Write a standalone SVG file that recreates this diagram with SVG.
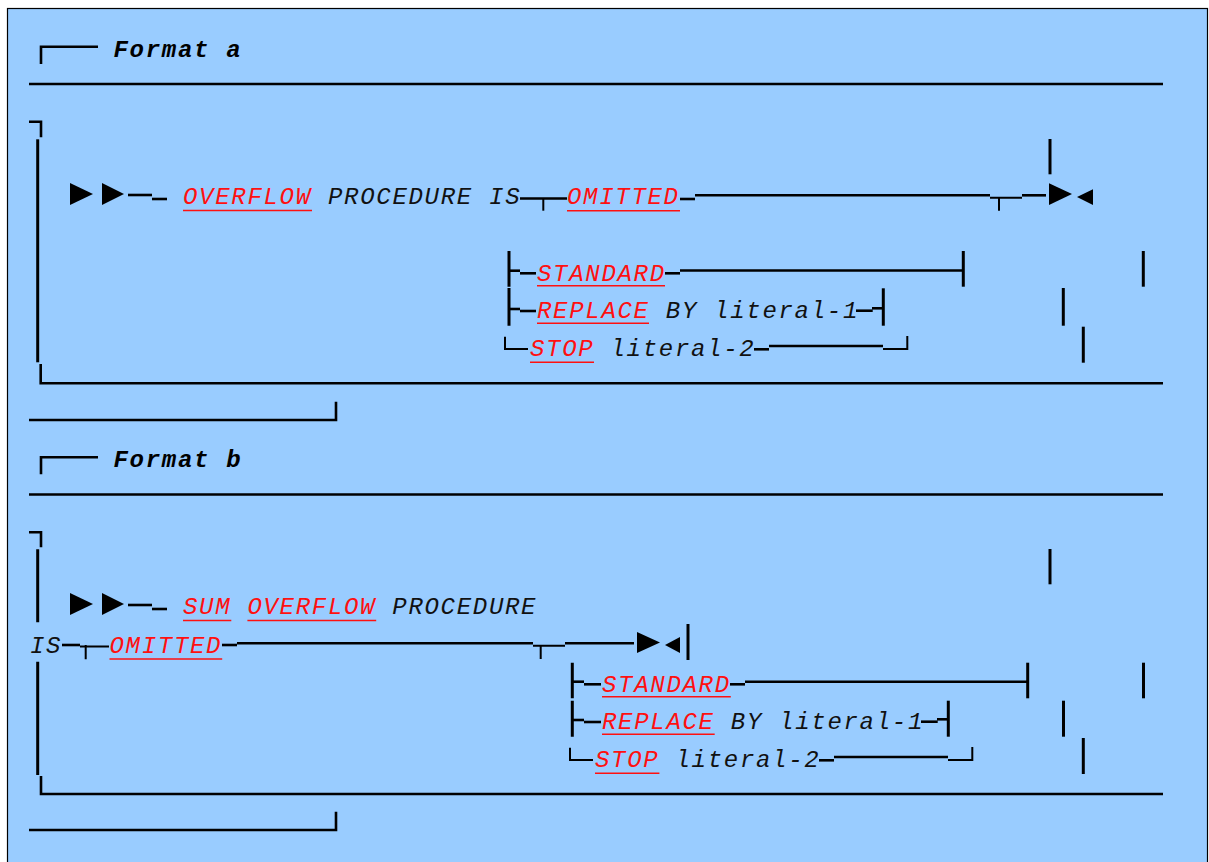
<svg xmlns="http://www.w3.org/2000/svg" width="1209" height="862" viewBox="0 0 1209 862">
<style>
.t{font-family:"Liberation Mono","Courier New",monospace;font-style:italic;font-size:24px;letter-spacing:1.7px;fill:#111}
.r{fill:#ff1010}
.h{font-weight:bold;fill:#000}
.ln{stroke:#000;stroke-width:2.6;fill:none}
.v{stroke:#000;stroke-width:3;fill:none}
.th{stroke:#000;stroke-width:2;fill:none}
.ul{stroke:#ff1010;stroke-width:1.6}
.ar{fill:#000}
</style>
<rect x="7.5" y="8.5" width="1200" height="860" fill="#99ccff" stroke="#000" stroke-width="1.2"/>

<g id="format-a">
  <g id="a-header"><path class="ln" d="M41,64 V46.7 H98"/><text class="t h" x="113.5" y="57">Format a</text></g>
  <g id="a-connectors">
    <path class="ln" d="M29,84 H1163"/>
    <path class="ln" d="M29,121.7 H41 V137.3"/>
    <path class="v" d="M37.7,139.3 V362.3"/>
    <path class="ln" d="M40.7,364 V383.3 H1163"/>
    <path class="ln" d="M29,420 H336 V401.7"/>
    <path class="v" d="M1050,139 V174.3"/>
    <path class="ln" d="M128,195 H152"/><path class="ln" d="M152,199 H167"/>
    <path class="ln" d="M520,198.5 H567"/><path class="th" d="M543.3,198.5 V210.7"/>
    <path class="ln" d="M680,199 H695"/><path class="ln" d="M695,195.3 H990"/>
    <path class="th" d="M990,197.7 H1022 M999,197.7 V210.7"/>
    <path class="ln" d="M1022,195.3 H1046"/>
    <path class="v" d="M509,251 V286.7 M509,288 V325.7"/>
    <path class="ln" d="M509,270.7 H520"/><path class="ln" d="M520,273.3 H536"/>
    <path class="ln" d="M665,273.3 H680"/><path class="ln" d="M680,270.5 H963"/>
    <path class="v" d="M963.3,251 V286.7"/><path class="v" d="M1143.3,251 V286.7"/>
    <path class="ln" d="M509,309 H520"/><path class="ln" d="M520,311 H536"/>
    <path class="ln" d="M856,310.7 H872.7"/><path class="ln" d="M872,308.3 H884"/>
    <path class="v" d="M883.3,288.3 V325.7"/><path class="v" d="M1063.3,288 V325.7"/>
    <path class="th" d="M505,336.7 V349 H528"/>
    <path class="ln" d="M754,349.3 H769"/><path class="ln" d="M769,346 H883"/>
    <path class="th" d="M883,349 H907.3 V336"/>
    <path class="v" d="M1083.3,326.7 V362.7"/>
  </g>
  <g id="a-start"><polygon class="ar" points="70,183 93,194 70,205"/><polygon class="ar" points="102,183 124,194 102,205"/></g>
  <g id="a-overflow"><text class="t r" x="183" y="204">OVERFLOW</text><line class="ul" x1="183" y1="210.5" x2="312" y2="210.5"/></g>
  <g id="a-procedure"><text class="t" x="328" y="204">PROCEDURE IS</text></g>
  <g id="a-omitted"><text class="t r" x="567" y="204">OMITTED</text><line class="ul" x1="567" y1="210.7" x2="680" y2="210.7"/></g>
  <g id="a-end"><polygon class="ar" points="1049,183.3 1072,194 1049,205"/><polygon class="ar" points="1077,197 1093,189.3 1093,205"/></g>
  <g id="a-standard"><text class="t r" x="537" y="281">STANDARD</text><line class="ul" x1="537" y1="285.7" x2="665" y2="285.7"/></g>
  <g id="a-replace"><text class="t r" x="537" y="318">REPLACE</text><line class="ul" x1="537" y1="323.3" x2="649" y2="323.3"/><text class="t" x="665.8" y="318">BY literal-1</text></g>
  <g id="a-stop"><text class="t r" x="530" y="356">STOP</text><line class="ul" x1="530" y1="362.3" x2="594" y2="362.3"/><text class="t" x="610.5" y="356">literal-2</text></g>
</g>

<g id="format-b">
  <g id="b-header"><path class="ln" d="M41,474.3 V457.3 H98"/><text class="t h" x="113.5" y="467">Format b</text></g>
  <g id="b-connectors">
    <path class="ln" d="M29,494.5 H1163"/>
    <path class="ln" d="M29,532.3 H41 V547.3"/>
    <path class="v" d="M37.7,549.3 V622.3 M37.7,661.7 V775"/>
    <path class="ln" d="M41,776 V794 H1163"/>
    <path class="ln" d="M29,830 H336 V811.7"/>
    <path class="v" d="M1050,549 V584.3"/>
    <path class="ln" d="M128,605 H152"/><path class="ln" d="M152,609 H167"/>
    <path class="ln" d="M62,645 H80"/><path class="th" d="M80,646.5 H109 M85.7,645 V659.3"/>
    <path class="ln" d="M222,645 H237"/><path class="ln" d="M237,643.3 H533"/>
    <path class="th" d="M533,645.7 H565 M540.7,645 V659"/>
    <path class="ln" d="M565,643.3 H634"/>
    <path class="v" d="M688,624 V660"/>
    <path class="v" d="M572.3,662.7 V698.3 M572.3,700.7 V736.7"/>
    <path class="ln" d="M572,681.7 H584"/><path class="ln" d="M584,684.3 H601"/>
    <path class="ln" d="M730,684.3 H745"/><path class="ln" d="M745,681.7 H1027"/>
    <path class="v" d="M1027.7,662.7 V698.3"/><path class="v" d="M1143.5,662.7 V698.3"/>
    <path class="ln" d="M572,720 H584"/><path class="ln" d="M584,722 H601"/>
    <path class="ln" d="M921,721.7 H937.7"/><path class="ln" d="M937,719.3 H948.3"/>
    <path class="v" d="M948.3,700.7 V736.7"/><path class="v" d="M1063.5,700.7 V736.7"/>
    <path class="th" d="M570,747.7 V760 H593"/>
    <path class="ln" d="M819,760.3 H834"/><path class="ln" d="M834,757 H948"/>
    <path class="th" d="M948,760 H972.3 V747"/>
    <path class="v" d="M1083.3,738 V774"/>
  </g>
  <g id="b-start"><polygon class="ar" points="70,593 93,604 70,615"/><polygon class="ar" points="102,593 124,604 102,615"/></g>
  <g id="b-sum"><text class="t r" x="183" y="614">SUM</text><line class="ul" x1="183" y1="620.5" x2="231.3" y2="620.5"/></g>
  <g id="b-overflow"><text class="t r" x="247.4" y="614">OVERFLOW</text><line class="ul" x1="247.4" y1="620.5" x2="376.2" y2="620.5"/></g>
  <g id="b-procedure"><text class="t" x="392.3" y="614">PROCEDURE</text></g>
  <g id="b-is"><text class="t" x="30" y="653">IS</text></g>
  <g id="b-omitted"><text class="t r" x="109.5" y="653">OMITTED</text><line class="ul" x1="109.5" y1="659" x2="222.2" y2="659"/></g>
  <g id="b-end"><polygon class="ar" points="637,632 660,642.5 637,653"/><polygon class="ar" points="665,645 680,637 680,653"/></g>
  <g id="b-standard"><text class="t r" x="602" y="692">STANDARD</text><line class="ul" x1="602" y1="696.7" x2="730.8" y2="696.7"/></g>
  <g id="b-replace"><text class="t r" x="602" y="729">REPLACE</text><line class="ul" x1="602" y1="734.3" x2="714.7" y2="734.3"/><text class="t" x="730.8" y="729">BY literal-1</text></g>
  <g id="b-stop"><text class="t r" x="595" y="767">STOP</text><line class="ul" x1="595" y1="773.3" x2="659.4" y2="773.3"/><text class="t" x="675.5" y="767">literal-2</text></g>
</g>
</svg>
